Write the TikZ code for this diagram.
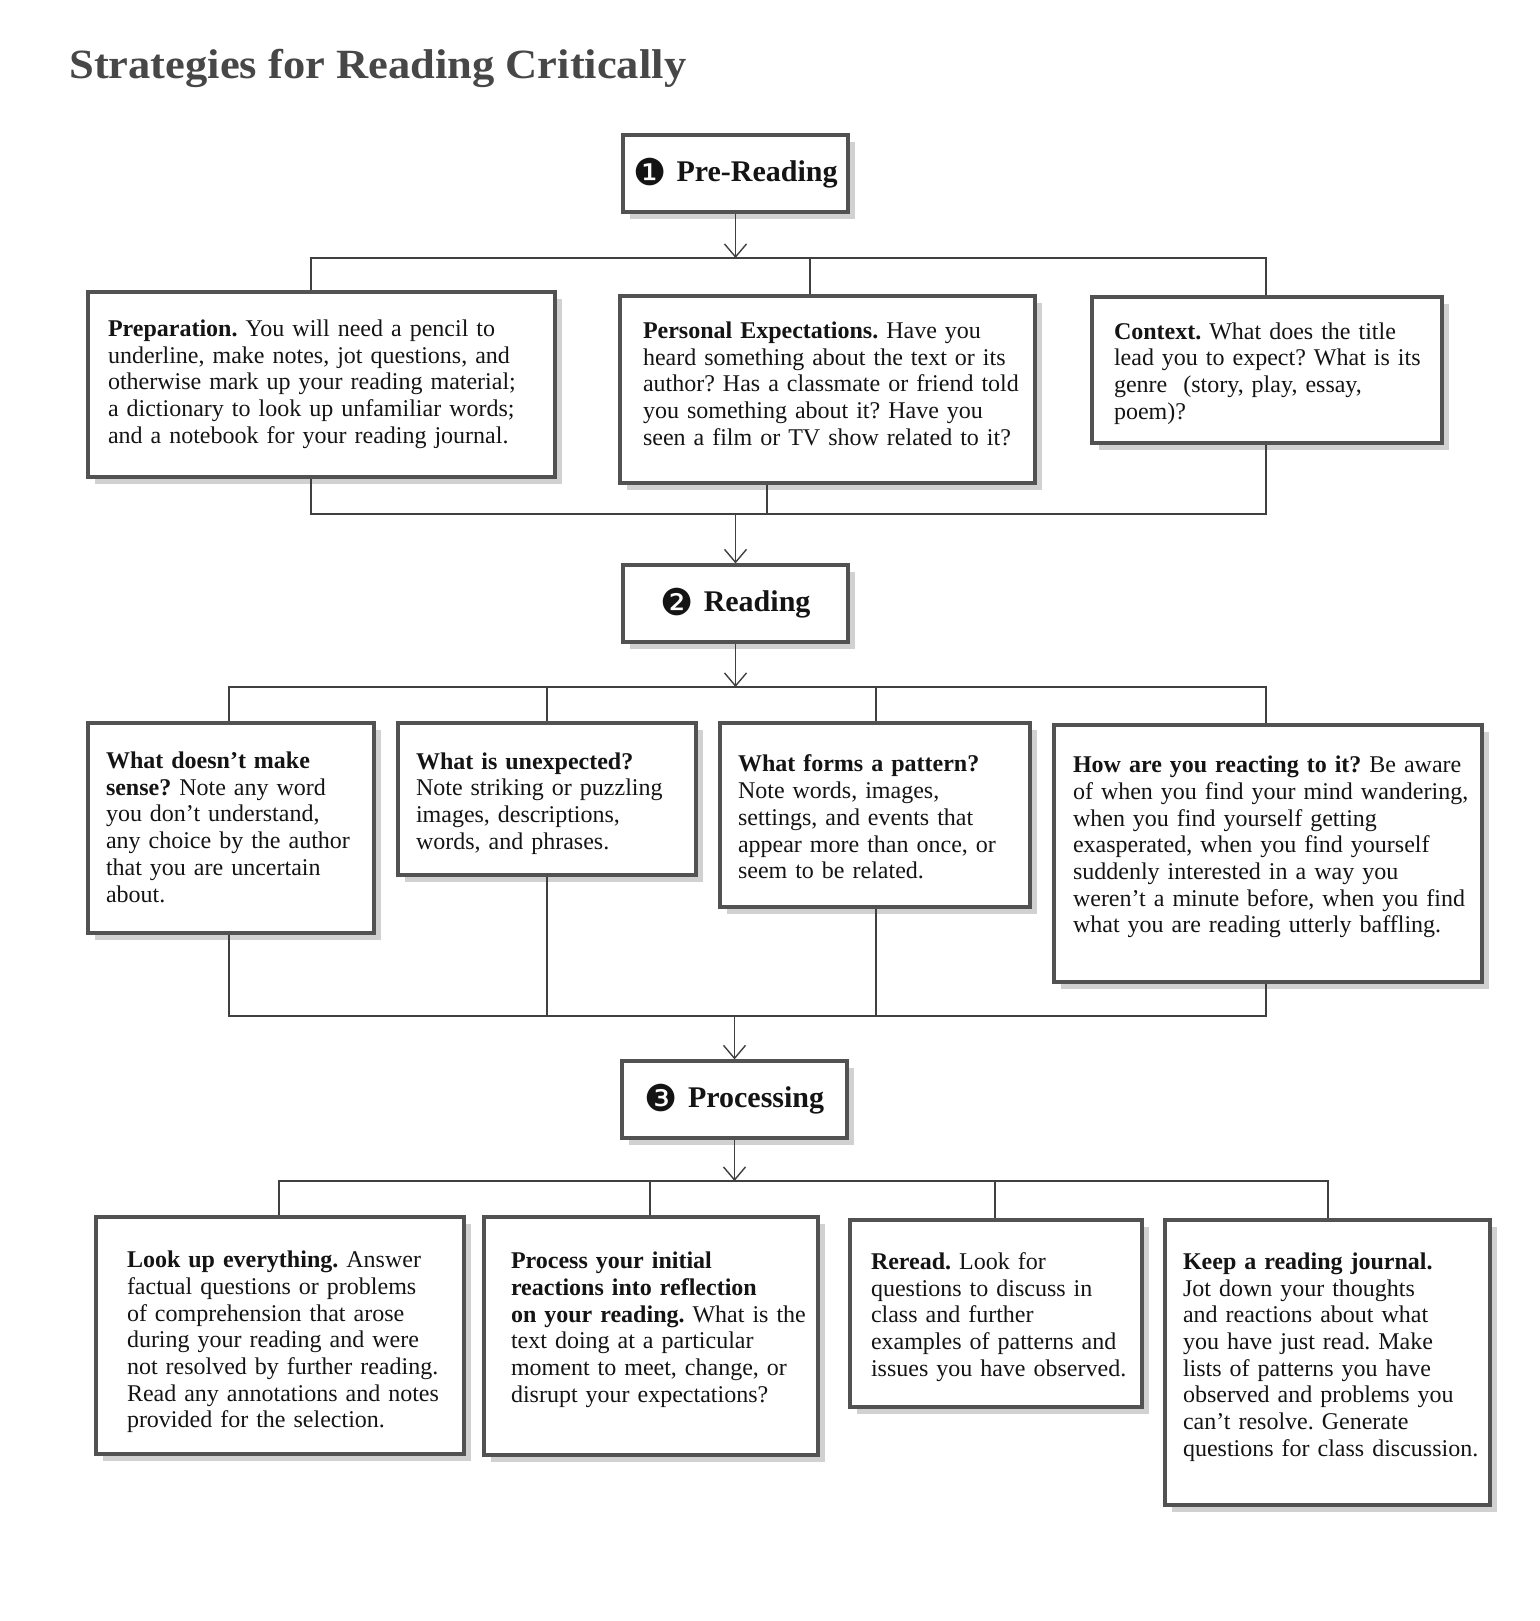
\documentclass[tikz,border=0pt]{standalone}
\usepackage{fontspec}
\setmainfont{Liberation Serif}
\newfontfamily\titlefont{Liberation Serif}[FakeStretch=1.07]
\newfontfamily\dingfont{DejaVu Sans}
\usetikzlibrary{arrows.meta,shadows}
\frenchspacing
\newcommand{\boxlines}[2][0pt]{\begin{tabular}{@{}l@{}}\noalign{\vskip #1}#2\end{tabular}}
\tikzset{
  boxshadow/.style={drop shadow={shadow xshift=3.5pt, shadow yshift=-3.5pt, fill=black!18, opacity=1}},
  txtbox/.style={draw=black!68, line width=1.6pt, fill=white, boxshadow,
    font=\fontsize{12}{13.35}\selectfont, text=black!92, inner ysep=0pt},
  headbox/.style={draw=black!68, line width=1.6pt, fill=white, boxshadow,
    minimum width=112.5pt, minimum height=38.5pt, inner sep=0pt,
    font=\fontsize{15}{18}\selectfont\bfseries, text=black!92},
  conn/.style={draw=black!75, line width=0.7pt},
  arr/.style={conn, -{Straight Barb[length=6.5pt,width=11pt,line width=0.7pt]}},
}
\newcommand{\dig}[1]{{\dingfont\mdseries\fontsize{18.5}{18}\selectfont\raisebox{-2pt}{#1}}\hspace{5pt}}
\begin{document}
\begin{tikzpicture}[x=0.5pt,y=-0.5pt]
\useasboundingbox (0,0) rectangle (1539,1621);
\fill[white] (0,0) rectangle (1539,1621);

\node[anchor=base west, inner sep=0pt, text=black!72,
  font=\titlefont\fontsize{20.8}{24}\selectfont\bfseries] (title) at (69,79) {Strategies for Reading Critically};

% headings
\node[headbox] (prer) at (735.5,173.5) {\dig{❶}Pre-Reading};
\node[headbox] (read) at (735.5,603.5) {\dig{❷}Reading};
\node[headbox] (proc) at (734.5,1099.5) {\dig{❸}Processing};

% row 1
\node[txtbox, minimum width=233.5pt, minimum height=92.5pt, text width=213.5pt, inner xsep=10pt] (prep) at (321.5,384.5)
 {\boxlines{\textbf{Preparation.} You will need a pencil to\\
 underline, make notes, jot questions, and\\
 otherwise mark up your reading material;\\
 a dictionary to look up unfamiliar words;\\
 and a notebook for your reading journal.}};
\node[txtbox, minimum width=207.5pt, minimum height=93.5pt, text width=184.5pt, inner xsep=11.5pt] (pers) at (827.5,389.5)
 {\boxlines[-3pt]{\textbf{Personal Expectations.} Have you\\
 heard something about the text or its\\
 author? Has a classmate or friend told\\
 you something about it? Have you\\
 seen a film or TV show related to it?}};
\node[txtbox, minimum width=175pt, minimum height=73pt, text width=153pt, inner xsep=11pt] (cont) at (1267,370)
 {\boxlines[4pt]{\textbf{Context.} What does the title\\
 lead you to expect? What is its\\
 genre\ \ (story, play, essay,\\
 poem)?}};

% row 2
\node[txtbox, minimum width=143pt, minimum height=105pt, text width=125pt, inner xsep=9pt] (wdm) at (231,828)
 {\boxlines[2pt]{\textbf{What doesn’t make}\\
 \textbf{sense?} Note any word\\
 you don’t understand,\\
 any choice by the author\\
 that you are uncertain\\
 about.}};
\node[txtbox, minimum width=149pt, minimum height=76pt, text width=131pt, inner xsep=9pt] (wiu) at (547,799)
 {\boxlines[5pt]{\textbf{What is unexpected?}\\
 Note striking or puzzling\\
 images, descriptions,\\
 words, and phrases.}};
\node[txtbox, minimum width=155pt, minimum height=92pt, text width=137pt, inner xsep=9pt] (wfp) at (875,815)
 {\boxlines[5pt]{\textbf{What forms a pattern?}\\
 Note words, images,\\
 settings, and events that\\
 appear more than once, or\\
 seem to be related.}};
\node[txtbox, minimum width=214pt, minimum height=128.5pt, text width=195pt, inner xsep=9.5pt] (how) at (1268,853.5)
 {\boxlines[-6pt]{\textbf{How are you reacting to it?} Be aware\\
 of when you find your mind wandering,\\
 when you find yourself getting\\
 exasperated, when you find yourself\\
 suddenly interested in a way you\\
 weren’t a minute before, when you find\\
 what you are reading utterly baffling.}};

% row 3
\node[txtbox, minimum width=184pt, minimum height=118.5pt, text width=153pt, inner xsep=15.5pt] (look) at (280,1335.5)
 {\boxlines[7pt]{\textbf{Look up everything.} Answer\\
 factual questions or problems\\
 of comprehension that arose\\
 during your reading and were\\
 not resolved by further reading.\\
 Read any annotations and notes\\
 provided for the selection.}};
\node[txtbox, minimum width=167pt, minimum height=119pt, text width=140pt, inner xsep=13.5pt] (procb) at (651,1336)
 {\boxlines[-6pt]{\textbf{Process your initial}\\
 \textbf{reactions into reflection}\\
 \textbf{on your reading.} What is the\\
 text doing at a particular\\
 moment to meet, change, or\\
 disrupt your expectations?}};
\node[txtbox, minimum width=146pt, minimum height=93.5pt, text width=125pt, inner xsep=10.5pt] (rer) at (996,1313.5)
 {\boxlines[4pt]{\textbf{Reread.} Look for\\
 questions to discuss in\\
 class and further\\
 examples of patterns and\\
 issues you have observed.}};
\node[txtbox, minimum width=162.5pt, minimum height=142.5pt, text width=144.5pt, inner xsep=9pt] (keep) at (1327.5,1362.5)
 {\boxlines[-5pt]{\textbf{Keep a reading journal.}\\
 Jot down your thoughts\\
 and reactions about what\\
 you have just read. Make\\
 lists of patterns you have\\
 observed and problems you\\
 can’t resolve. Generate\\
 questions for class discussion.}};

% connectors: level 1
\coordinate (t1L) at (311,258); \coordinate (t1M) at (810,258); \coordinate (t1R) at (1266,258);
\draw[conn] (t1L |- prep.north) -- (t1L) -- (t1R) -- (t1R |- cont.north);
\draw[conn] (t1M) -- (t1M |- pers.north);
\draw[arr] (prer.south) -- (prer.south |- t1M);

\coordinate (u1L) at (311,514); \coordinate (u1M) at (767,514); \coordinate (u1R) at (1266,514);
\draw[conn] (u1L |- prep.south) -- (u1L) -- (u1R) -- (u1R |- cont.south);
\draw[conn] (u1M |- pers.south) -- (u1M);
\draw[arr] (read.north |- u1M) -- (read.north);

% level 2
\coordinate (t2A) at (229,687); \coordinate (t2B) at (547,687); \coordinate (t2C) at (876,687); \coordinate (t2D) at (1266,687);
\draw[conn] (t2A |- wdm.north) -- (t2A) -- (t2D) -- (t2D |- how.north);
\draw[conn] (t2B) -- (t2B |- wiu.north);
\draw[conn] (t2C) -- (t2C |- wfp.north);
\draw[arr] (read.south) -- (read.south |- t2A);

\coordinate (u2A) at (229,1016); \coordinate (u2B) at (547,1016); \coordinate (u2C) at (876,1016); \coordinate (u2D) at (1266,1016);
\draw[conn] (u2A |- wdm.south) -- (u2A) -- (u2D) -- (u2D |- how.south);
\draw[conn] (u2B |- wiu.south) -- (u2B);
\draw[conn] (u2C |- wfp.south) -- (u2C);
\draw[arr] (proc.north |- u2A) -- (proc.north);

% level 3
\coordinate (t3A) at (279,1181); \coordinate (t3B) at (650,1181); \coordinate (t3C) at (995,1181); \coordinate (t3D) at (1328,1181);
\draw[conn] (t3A |- look.north) -- (t3A) -- (t3D) -- (t3D |- keep.north);
\draw[conn] (t3B) -- (t3B |- procb.north);
\draw[conn] (t3C) -- (t3C |- rer.north);
\draw[arr] (proc.south) -- (proc.south |- t3A);
\end{tikzpicture}
\end{document}
